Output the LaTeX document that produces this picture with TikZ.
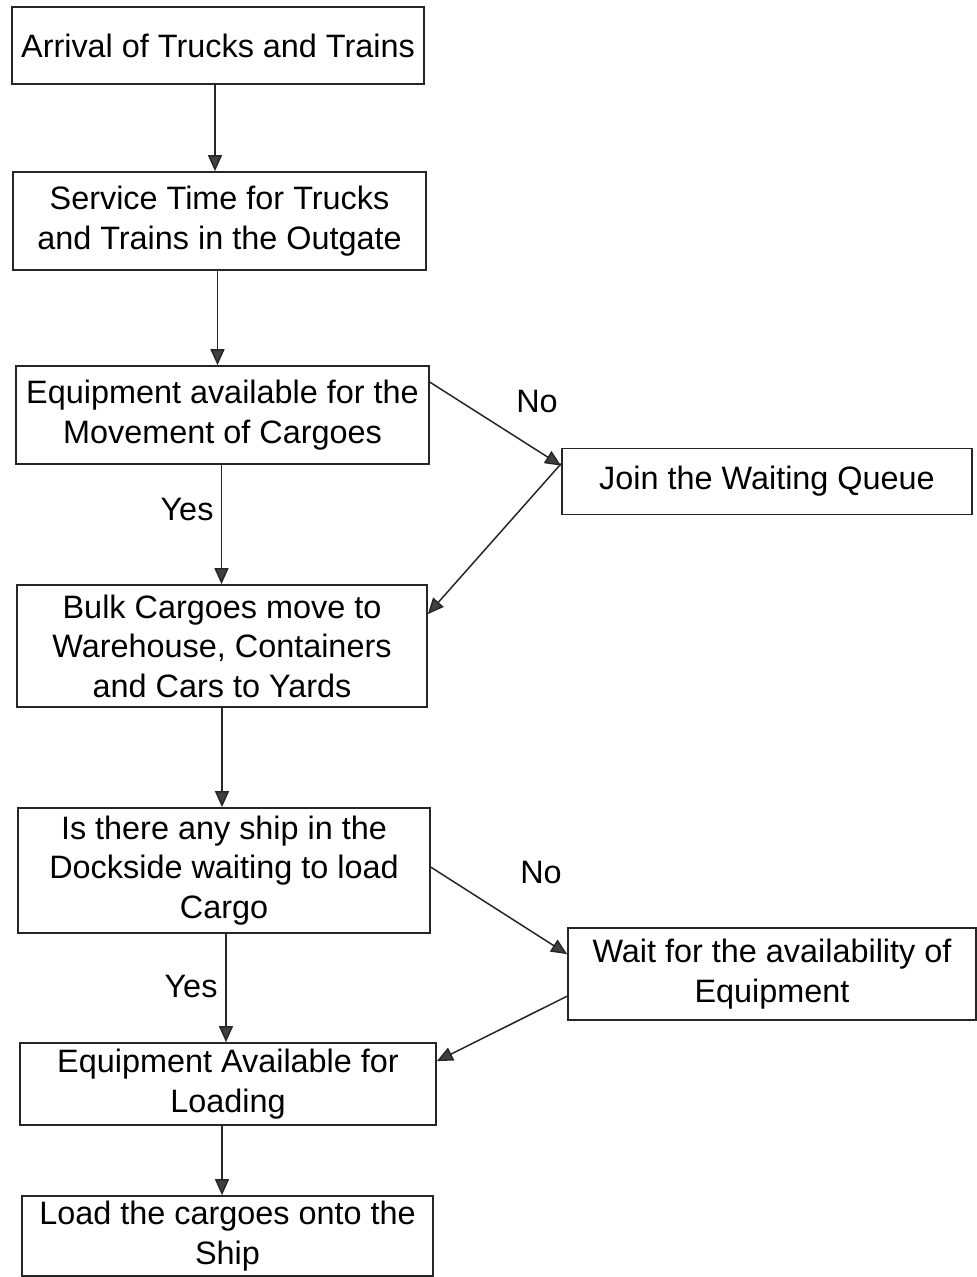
\documentclass[tikz,border=0pt]{standalone}
\usepackage{fontspec}
\setmainfont{Liberation Sans}
\usetikzlibrary{arrows.meta}

\begin{document}
\begin{tikzpicture}[x={(1pt,0)}, y={(0,-1pt)},
  font=\fontsize{32.4}{39.5}\selectfont,
  stepbox/.style={draw=black!85, line width=1.7pt, inner sep=0pt, align=center},
  arr/.style={draw=black!85, line width=1.5pt,
    -{Triangle[length=16pt,width=14pt,fill=black!75]}},
  lbl/.style={inner sep=0pt}]

\useasboundingbox (0,0) rectangle (977,1277);

% process and decision boxes (centre, width, height in px units)
\node[stepbox, minimum width=412pt, minimum height=77pt]  (b1) at (218,45.5)  {Arrival of Trucks and Trains};
\node[stepbox, minimum width=413pt, minimum height=98pt]  (b2) at (219.5,221) {Service Time for Trucks\\and Trains in the Outgate};
\node[stepbox, minimum width=413pt, minimum height=98pt]  (b3) at (222.5,415) {Equipment available for the\\Movement of Cargoes};
\node[stepbox, minimum width=410pt, minimum height=66pt]  (b4) at (767,481.5) {Join the Waiting Queue};
\node[stepbox, minimum width=410pt, minimum height=122pt] (b5) at (222,646)   {Bulk Cargoes move to\\Warehouse, Containers\\and Cars to Yards};
\node[stepbox, minimum width=412pt, minimum height=125pt] (b6) at (224,870.5) {Is there any ship in the\\Dockside waiting to load\\Cargo};
\node[stepbox, minimum width=408pt, minimum height=92pt]  (b7) at (772,974)   {Wait for the availability of\\Equipment};
\node[stepbox, minimum width=416pt, minimum height=82pt]  (b8) at (228,1084)  {Equipment Available for\\Loading};
\node[stepbox, minimum width=411pt, minimum height=80pt]  (b9) at (227.5,1236) {Load the cargoes onto the\\Ship};

% main vertical flow
\draw[arr] ([xshift=-3pt]b1.south) -- ([xshift=-3pt]b1.south |- b2.north);
\draw[arr] ([xshift=-2pt]b2.south) -- ([xshift=-2pt]b2.south |- b3.north);
\draw[arr] ([xshift=-1pt]b3.south) -- ([xshift=-1pt]b3.south |- b5.north);
\draw[arr] (b5.south) -- (b5.south |- b6.north);
\draw[arr] ([xshift=2pt]b6.south) -- ([xshift=2pt]b6.south |- b8.north);
\draw[arr] ([xshift=-6pt]b8.south) -- ([xshift=-6pt]b8.south |- b9.north);

% "No" branches and returns
\draw[arr] ([yshift=-17pt]b3.north east) -- ([yshift=-18pt]b4.north west);
\draw[arr] ([yshift=-16pt]b4.north west) -- ([yshift=-30pt]b5.north east);
\draw[arr] ([yshift=-60pt]b6.north east) -- ([yshift=-27pt]b7.north west);
\draw[arr] ([yshift=-69pt]b7.north west) -- ([yshift=-19pt]b8.north east);

% branch labels
\node[lbl] (no1)  at (537,402) {No};
\node[lbl] (yes1) at (187,510) {Yes};
\node[lbl] (no2)  at (541,873) {No};
\node[lbl] (yes2) at (191,986) {Yes};

\end{tikzpicture}
\end{document}
